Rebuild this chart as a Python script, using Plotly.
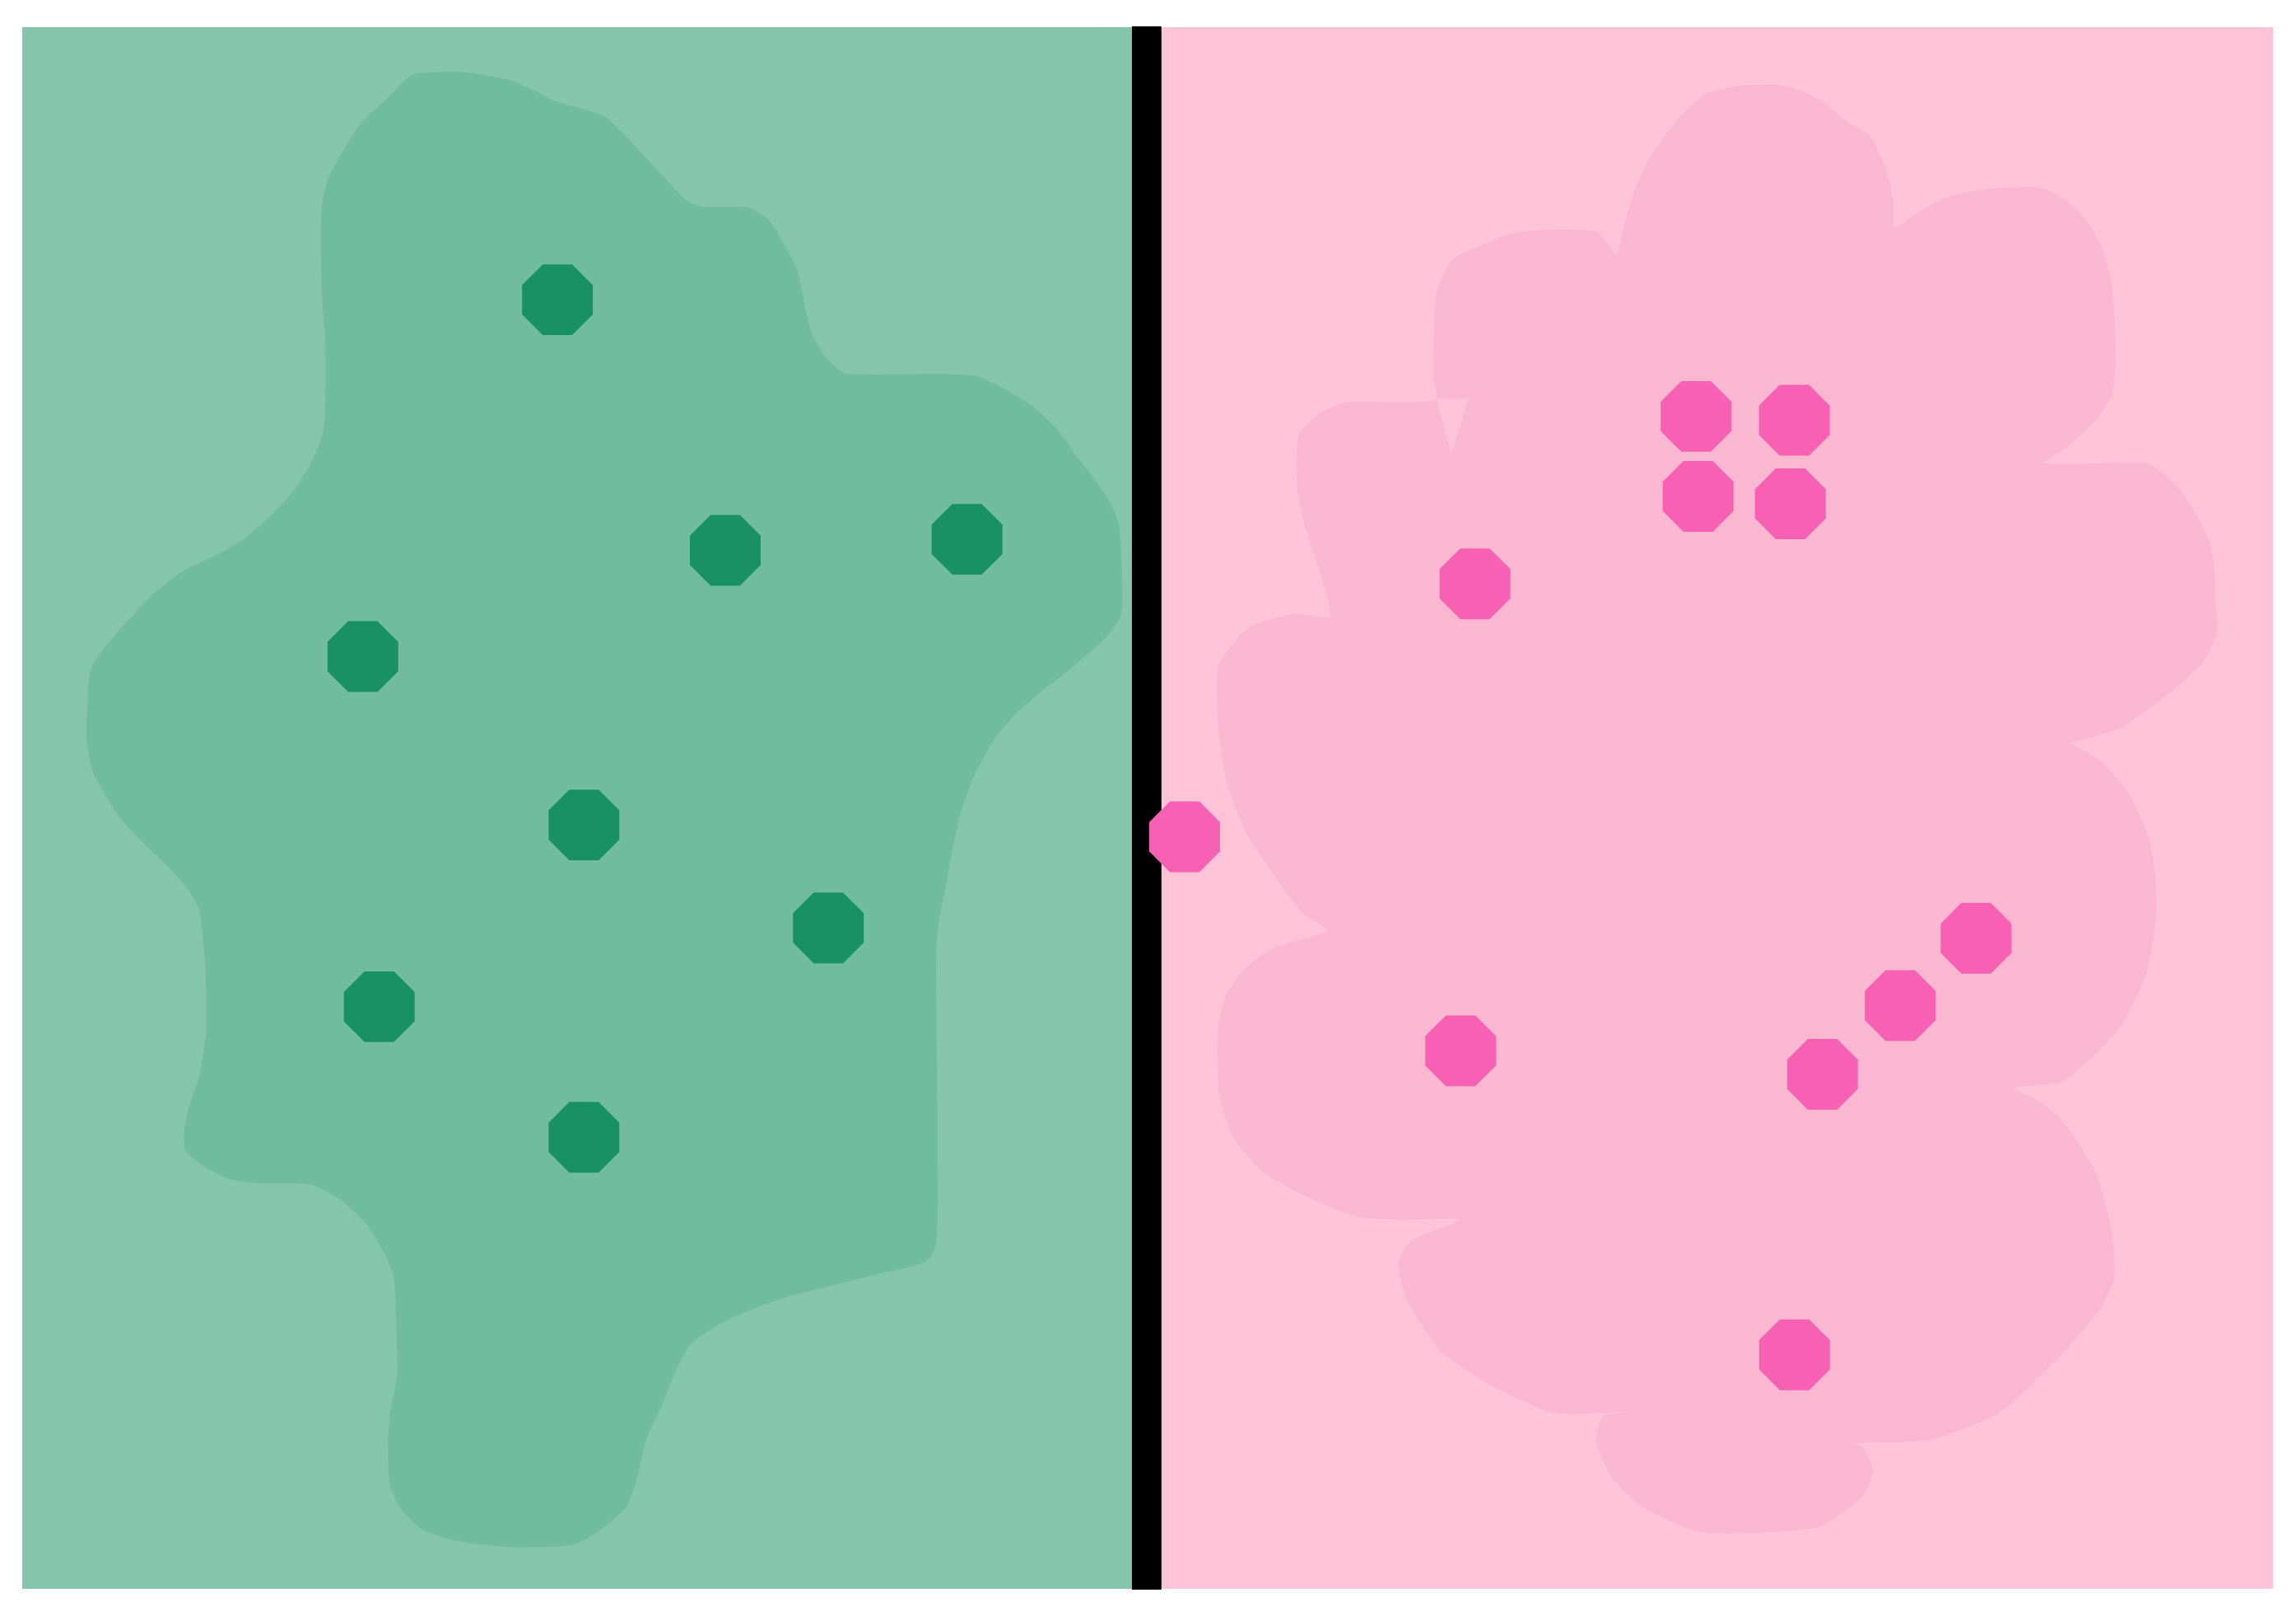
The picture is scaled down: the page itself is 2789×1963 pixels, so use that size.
import plotly.graph_objects as go

# ---- panel extents (data units) ----
panel_top = 18.55
panel_bottom = 1085.1
green_panel_x = [15.2, 773.0]
divider_x = [773.0, 793.2]
pink_panel_x = [793.2, 1552.3]

# ---- green region outline ----
green_blob_x = [282.8, 315.4, 348, 365, 378.3, 413.3, 441.3, 469.2, 478.6, 511.2, 525.2, 536.8, 543.8, 547,
                550.8, 555.5, 565, 576.5, 595, 665, 685, 707, 722, 735, 748, 758.3, 764, 765.3, 765.3, 753.6,
                732, 707, 693, 679, 666, 657, 651, 646, 641, 639.4, 639.4, 636, 630, 600, 571.8, 540, 511.2,
                490, 471.6, 462, 452, 441.3, 435, 427.3, 410, 392.3, 348, 310, 287.4, 275, 266.4, 265, 266.4,
                271.1, 270.5, 268.8, 262, 250.1, 232, 212.8, 175, 156.9, 140, 126.6, 126, 128.9, 136, 140.6,
                140.5, 138, 135.9, 128, 114.9, 95, 80, 63.6, 59, 59.9, 60.5, 63.6, 80, 105.6, 125, 150, 168,
                185, 200, 213, 221, 222.2, 219.8, 219.8, 224.5, 235, 245.5, 268.8, 276]
green_blob_y = [50.5, 49.2, 54.7, 62, 68.6, 79.8, 107.9, 137, 140.8, 141.8, 149.9, 169.2, 182.1, 195,
                214.4, 230.5, 245, 254.8, 255.7, 256.4, 265, 279, 293, 311.2, 328, 343.5, 358, 372.5, 421, 437,
                456, 475.8, 488, 505, 528, 552, 577.7, 605, 630, 649.4, 848.5, 858, 862.8, 870, 877.2, 885, 895,
                905, 918.4, 935, 960, 983, 1010, 1029.6, 1045, 1054.7, 1056.5, 1052, 1043.9, 1032, 1015.2, 990,
                965, 939.9, 900, 871.8, 855, 835.9, 819, 809, 808, 805.4, 797, 785.7, 770, 757, 735, 706.8,
                665, 635, 620.8, 607, 592, 573, 556, 527.5, 506, 480, 465, 453.2, 432, 404.8, 390, 378, 367,
                352, 336, 315, 293, 233.8, 200, 140.2, 120.8, 102, 85.3, 62.7, 55]

# ---- pink region outline ----
pink_blob_x = [1104, 1110, 1118, 1127, 1137, 1150, 1165, 1188, 1216, 1230, 1244, 1260, 1277, 1285, 1291, 1293, 1294,
               1310, 1328, 1345, 1356, 1393, 1405, 1417, 1427, 1435, 1440, 1442, 1444, 1445, 1444, 1442, 1433, 1421, 1408, 1396,
               1463, 1470, 1477, 1490, 1500, 1508, 1512, 1513, 1514, 1505, 1490, 1477, 1462, 1449, 1430, 1412,
               1414, 1435, 1454, 1468, 1472, 1472, 1465, 1449, 1430, 1407, 1375,
               1389, 1407, 1431, 1442, 1444, 1435, 1407, 1365, 1319, 1265,
               1272, 1279, 1272, 1244, 1216, 1160, 1123, 1100, 1090, 1095, 1118,
               1062, 1016, 983, 960, 955, 964, 997,
               955, 927, 894, 862, 843, 833, 832, 838, 850, 866, 906,
               890, 871, 852, 838, 833, 832, 832, 852, 885, 908,
               890, 886, 887, 900, 918, 981,
               979, 979, 981, 992, 1011, 1030, 1053, 1090, 1097]
pink_blob_y = [174, 150, 126, 107, 93, 77, 64, 58.6, 58, 62, 69, 82, 93, 108, 126, 140, 155,
               145, 135, 131, 129, 128, 133, 142, 154, 168, 185, 193, 215, 239, 260, 271, 285, 297, 308, 316,
               316, 318, 323, 336, 352, 368, 384, 410, 432, 452, 466, 477, 488, 497, 503, 508,
               508, 520, 542, 574, 599, 632, 667, 700, 721, 739, 743,
               750, 764, 800, 840, 872, 893, 926, 965, 983, 986,
               988, 1004, 1022, 1042, 1046, 1046, 1030, 1008, 983, 967, 964,
               965, 945, 922, 886, 861, 847, 833,
               833, 831, 818, 800, 778, 750, 700, 678, 662, 649, 635,
               624, 599, 571, 535, 506, 497, 455, 429, 419, 421,
               355, 335, 297, 283, 275, 272.5,
               260, 245, 200, 177, 168, 160, 157, 158, 165]

# small uncovered gap inside the pink region
pink_gap_x = [981, 1003, 991]
pink_gap_y = [272.5, 272.5, 310]

# ---- points ----
green_pts_x = [380.7, 495.3, 660.4, 247.8, 398.8, 565.7, 259.0, 398.8]
green_pts_y = [204.7, 375.8, 368.3, 448.4, 563.4, 633.7, 687.5, 776.7]
pink_pts_x = [1158.3, 1225.4, 1159.7, 1222.7, 1007.3, 809.0, 1349.5, 1297.7, 997.5, 1244.6, 1225.5]
pink_pts_y = [284.4, 287.0, 339.0, 344.1, 398.7, 571.5, 640.8, 686.7, 717.6, 733.7, 925.2]

GREEN_BG, GREEN_BLOB, GREEN_PT = "#85C5AD", "#71BCA0", "#189265"
PINK_BG, PINK_BLOB, PINK_PT = "#FFC3D7", "#FAB8D0", "#F860B3"

fig = go.Figure()

fig.add_trace(go.Scatter(x=green_blob_x + [green_blob_x[0]], y=green_blob_y + [green_blob_y[0]],
                         mode="lines", fill="toself", fillcolor=GREEN_BLOB,
                         line=dict(width=0, color=GREEN_BLOB, shape="spline", smoothing=0.6),
                         hoverinfo="skip", showlegend=False))
fig.add_trace(go.Scatter(x=pink_blob_x + [pink_blob_x[0]], y=pink_blob_y + [pink_blob_y[0]],
                         mode="lines", fill="toself", fillcolor=PINK_BLOB,
                         line=dict(width=0, color=PINK_BLOB, shape="spline", smoothing=0.6),
                         hoverinfo="skip", showlegend=False))
fig.add_trace(go.Scatter(x=pink_gap_x + [pink_gap_x[0]], y=pink_gap_y + [pink_gap_y[0]],
                         mode="lines", fill="toself", fillcolor=PINK_BG,
                         line=dict(width=0, color=PINK_BG), hoverinfo="skip", showlegend=False))
fig.add_trace(go.Scatter(x=green_pts_x, y=green_pts_y, mode="markers",
                         marker=dict(symbol="octagon", size=93, color=GREEN_PT, line=dict(width=0)),
                         showlegend=False))
fig.add_trace(go.Scatter(x=pink_pts_x, y=pink_pts_y, mode="markers",
                         marker=dict(symbol="octagon", size=93, color=PINK_PT, line=dict(width=0)),
                         showlegend=False))

fig.add_shape(type="rect", xref="x", yref="y", x0=green_panel_x[0], x1=green_panel_x[1],
              y0=panel_top, y1=panel_bottom, fillcolor=GREEN_BG, line=dict(width=0), layer="below")
fig.add_shape(type="rect", xref="x", yref="y", x0=pink_panel_x[0], x1=pink_panel_x[1],
              y0=panel_top, y1=panel_bottom, fillcolor=PINK_BG, line=dict(width=0), layer="below")
fig.add_shape(type="rect", xref="x", yref="y", x0=divider_x[0], x1=divider_x[1],
              y0=18.0, y1=1085.6, fillcolor="#000000", line=dict(width=0), layer="below")

fig.update_layout(
    width=2789, height=1963, autosize=False,
    margin=dict(l=0, r=0, t=0, b=0, pad=0),
    paper_bgcolor="white", plot_bgcolor="white",
    xaxis=dict(range=[0, 1568.0], visible=False, showgrid=False, zeroline=False, fixedrange=True),
    yaxis=dict(range=[1103.6, 0], visible=False, showgrid=False, zeroline=False, fixedrange=True),
    hovermode=False,
)

fig.write_html("out.html", config={"displayModeBar": False},
               post_script="document.body.style.margin='0';document.body.style.overflow='hidden';")
